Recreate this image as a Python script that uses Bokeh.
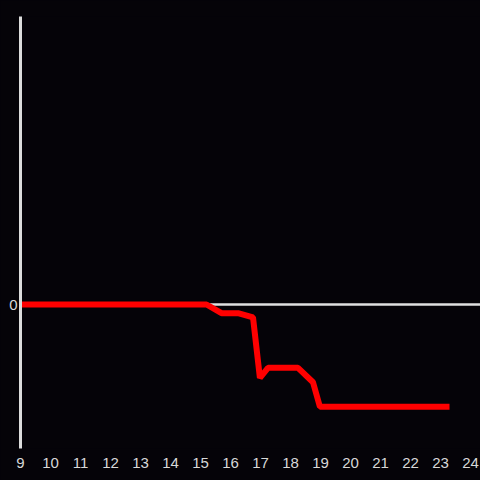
from bokeh.plotting import figure
from bokeh.models import Range1d, FixedTicker, Span
from bokeh.embed import file_html
from bokeh.resources import INLINE

# data (hour of day, value)
hours = [9.0, 15.2, 15.7, 16.25, 16.75, 16.98, 17.25, 18.25, 18.75, 18.98, 23.3]
values = [0.0, 0.0, -0.06, -0.06, -0.09, -0.51, -0.44, -0.44, -0.54, -0.71, -0.71]
x_ticks = list(range(9, 25))
y_ticks = [0]

BG = "#050308"

p = figure(width=480, height=480, output_backend="svg", toolbar_location=None,
           x_range=Range1d(9, 24.333), y_range=Range1d(-1, 2),
           background_fill_color=BG, border_fill_color=BG,
           min_border_left=20, min_border_right=0, min_border_top=16, min_border_bottom=32)
p.outline_line_color = None
p.grid.visible = False

p.add_layout(Span(location=0, dimension="width", line_color="#e0e0e0", line_width=2.5, level="underlay"))

p.line(hours, values, line_color="#ff0000", line_width=6)

xa = p.xaxis[0]
xa.ticker = FixedTicker(ticks=x_ticks)
xa.axis_line_color = None
xa.major_tick_line_color = None
xa.minor_tick_line_color = None
xa.major_label_text_color = "#d8d8d8"
xa.major_label_text_font = "Liberation Sans"
xa.major_label_text_font_size = "15px"
xa.major_label_standoff = 3

ya = p.yaxis[0]
ya.ticker = FixedTicker(ticks=y_ticks)
ya.axis_line_color = "#dcdcdc"
ya.axis_line_width = 3
ya.major_tick_line_color = None
ya.minor_tick_line_color = None
ya.major_tick_out = 0
ya.major_tick_in = 0
ya.major_label_text_color = "#d8d8d8"
ya.major_label_text_font = "Liberation Sans"
ya.major_label_text_font_size = "15px"
ya.major_label_standoff = 3

html = file_html(p, INLINE)
html = html.replace("</head>", "<style>html,body{margin:0;padding:0;background:#050308;overflow:hidden}</style></head>", 1)
open("out.html", "w").write(html)
